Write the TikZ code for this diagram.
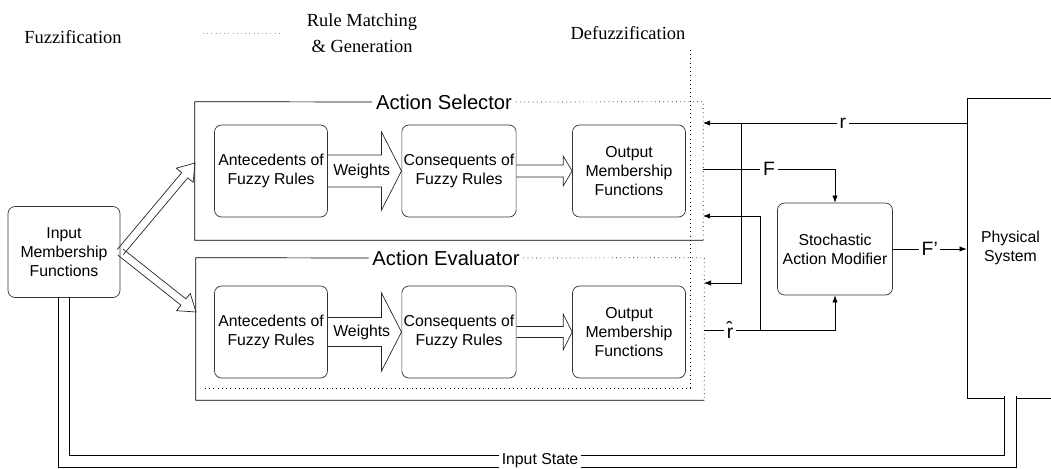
\documentclass[tikz,border=0pt]{standalone}
\usepackage{fontspec}
\setmainfont{Liberation Sans}
\newfontfamily\titlefont{Liberation Serif}
\usepackage{tikz}
\usetikzlibrary{positioning,calc,arrows.meta}

\tikzset{
  rbox/.style={draw=black!80, thin, rounded corners=4pt, minimum width=2.26cm, minimum height=1.84cm, align=center, inner sep=1pt, font=\fontsize{9}{10.8}\selectfont},
  grp/.style={minimum width=10.16cm, inner sep=0pt},
  grplbl/.style={fill=white, inner sep=2pt, font=\fontsize{11.5}{13}\selectfont},
  conn/.style={thin, -{Latex[length=4pt,width=3pt]}},
  lbl/.style={fill=white, inner sep=1.5pt, font=\fontsize{11}{12}\selectfont},
  hollow/.style={draw=black!85, thin},
  coltitle/.style={font=\titlefont\fontsize{10.5}{14.7}\selectfont, align=center},
}

% hollow block arrow: from, to, shaft half width, head half width, head length
\newcommand{\hollowarrow}[5]{%
  \coordinate (ha) at ($(#2)!#5!(#1)$);
  \draw[hollow] ($(#1)!#3!90:(#2)$) -- ($(ha)!#3!90:(#2)$) -- ($(ha)!#4!90:(#2)$) -- (#2)
    -- ($(ha)!#4!-90:(#2)$) -- ($(ha)!#3!-90:(#2)$) -- ($(#1)!#3!-90:(#2)$);
}

\begin{document}
\begin{tikzpicture}[x=0.02cm, y=-0.02cm]
\useasboundingbox (0,0) rectangle (1051,468);
% column titles
\node[coltitle] (fuzz) at (73,37) {Fuzzification};
\node[coltitle] (rmg) at (362,33) {Rule Matching\\\& Generation};
\node[coltitle] (defz) at (628,33) {Defuzzification};
\draw[dotted, black!40] (203,33) -- (280,33);
\draw[dotted] (690,50) -- (690,388) -- (205,388);

% input membership
\node[rbox, minimum width=2.24cm, minimum height=1.82cm] (imf) at (64,252) {Input\\Membership\\Functions};

% action selector
\node[grp, minimum height=2.76cm] (sel) at (449,171) {};
\node[grplbl] (sellbl) at (444,102) {Action Selector};
\draw (sellbl.west) -- (sel.north west) -- (sel.south west) -- (sel.south east);
\draw[dotted] (sellbl.east) -- (sel.north east) -- (sel.south east);
\node[rbox] (ant1) at (271,171) {Antecedents of\\Fuzzy Rules};
\node[rbox] (con1) at (459,171) {Consequents of\\Fuzzy Rules};
\node[rbox] (out1) at (629,171) {Output\\Membership\\Functions};

% action evaluator
\node[grp, minimum height=2.84cm] (evl) at (450,329) {};
\node[grplbl] (evllbl) at (446,258) {Action Evaluator};
\draw (evllbl.west) -- (evl.north west) -- (evl.south west) -- (evl.south east);
\draw[dotted] (evllbl.east) -- (evl.north east) -- (evl.south east);
\node[rbox] (ant2) at (271,332) {Antecedents of\\Fuzzy Rules};
\node[rbox] (con2) at (459,332) {Consequents of\\Fuzzy Rules};
\node[rbox] (out2) at (629,332) {Output\\Membership\\Functions};

% modifier and plant
\node[rbox, minimum width=2.3cm] (mod) at (835,249) {Stochastic\\Action Modifier};
\node[draw, thin, minimum width=1.74cm, minimum height=6cm, align=center, font=\fontsize{9}{10.8}\selectfont] (phys) at (1010.5,248) {Physical\\System};

% hollow arrows
\coordinate (selIn) at (195,163);
\coordinate (evlIn) at (196,312);
\hollowarrow{imf.east}{selIn}{0.08cm}{0.22cm}{0.32cm}
\hollowarrow{imf.east}{evlIn}{0.08cm}{0.22cm}{0.32cm}
\hollowarrow{ant1.east}{con1.west}{0.32cm}{0.78cm}{0.4cm}
\hollowarrow{ant2.east}{con2.west}{0.29cm}{0.78cm}{0.4cm}
\hollowarrow{con1.east}{out1.west}{0.12cm}{0.3cm}{0.18cm}
\hollowarrow{con2.east}{out2.west}{0.11cm}{0.36cm}{0.18cm}
\node[font=\fontsize{9}{10.8}\selectfont] (w1) at ($(ant1.east)!0.46!(con1.west)$) {Weights};
\node[font=\fontsize{9}{10.8}\selectfont] (w2) at ($(ant2.east)!0.46!(con2.west)$) {Weights};

% signal lines
\coordinate (selR) at (703,123);
\coordinate (selF) at (703,169);
\coordinate (selH) at (703,216);
\coordinate (evlR) at (704,283);
\coordinate (evlH) at (704,330);
\coordinate (rj) at (741,123);
\coordinate (hj) at (760,330);
\draw[conn] (phys.west |- selR) -- node[lbl, pos=0.47] {r} (selR);
\draw[conn] (rj) |- (evlR);
\draw[conn] (selF) -| node[lbl, pos=0.25] {F} (mod.north);
\draw[conn] (evlH) -| node[lbl, pos=0.1] {\^{r}} (mod.south);
\draw[conn] (hj) |- (selH);
\draw[conn] (mod.east) -- node[lbl] {F'} (phys.west |- mod.east);

% input state feedback
\draw[thin, double=white, double distance=0.22cm] ($(phys.south)+(0,-2)$) -- ++(0,65) -| (imf.south);
\node[lbl, font=\fontsize{9}{10.8}\selectfont] (instate) at (540,461) {Input State};
\end{tikzpicture}
\end{document}
